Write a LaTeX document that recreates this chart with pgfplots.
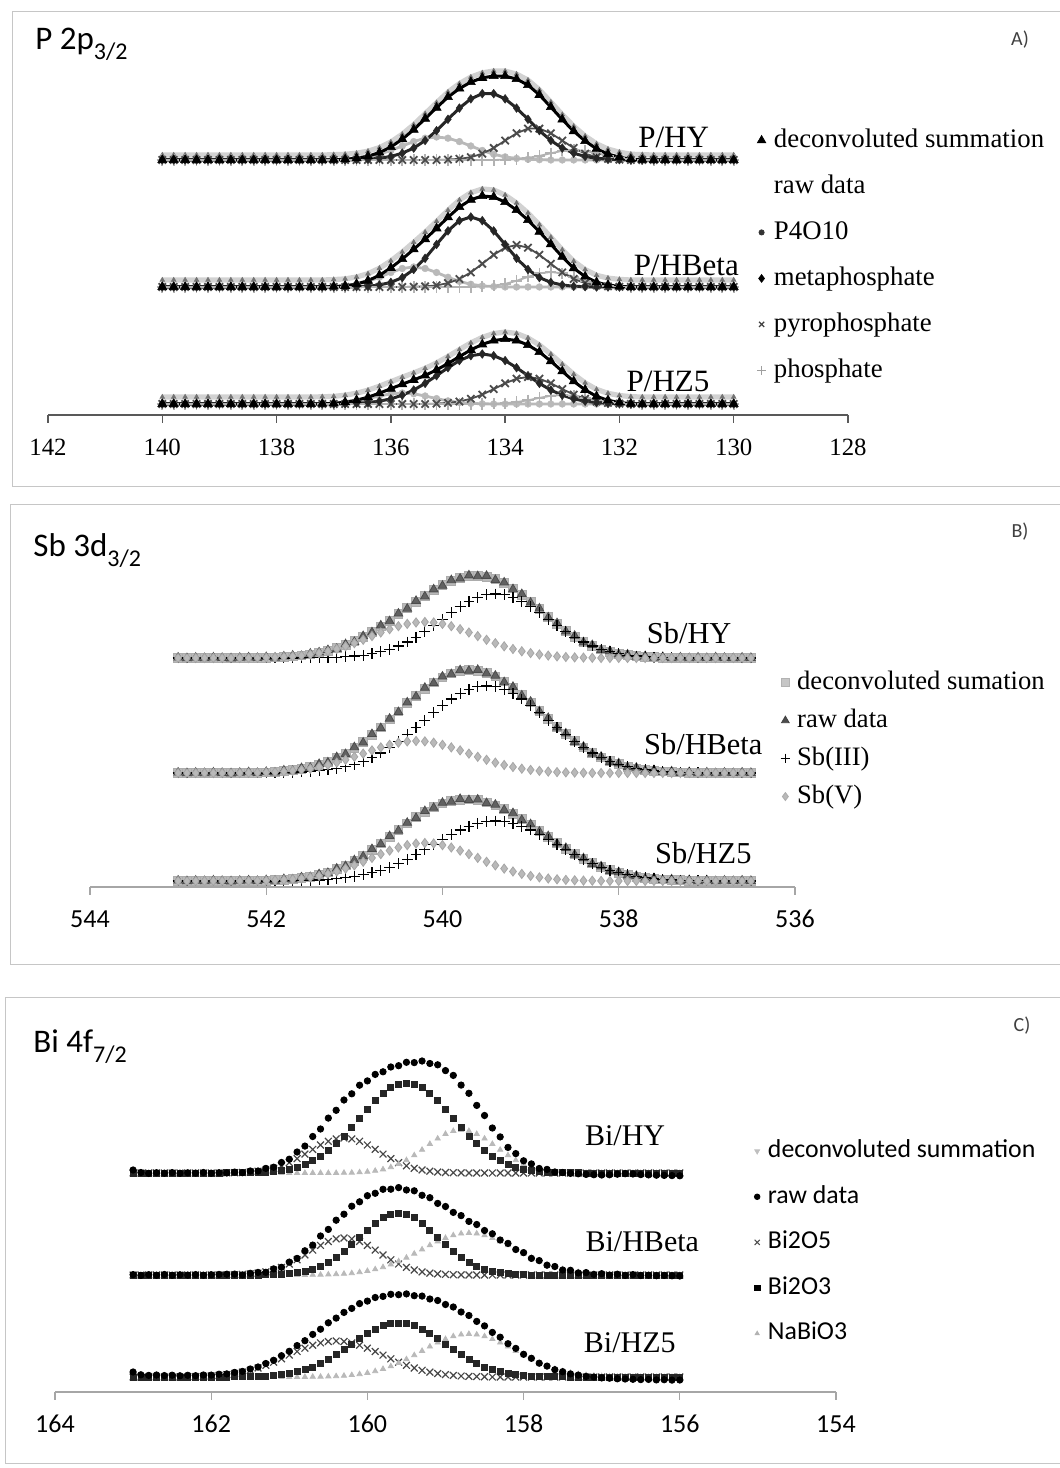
\documentclass[border=0pt]{standalone}
\usepackage{pgfplots}
\pgfplotsset{compat=1.18}
\usepackage{pgfplotstable}
\usepackage{fontspec}
\setmainfont{Liberation Serif}
\newfontfamily\calfont{Carlito}

% ---------------- Panel A : P 2p3/2 ----------------
\pgfplotstableread{
x sum raw p4 meta pyro phos
140.0 255 260 255 255 255 255
139.8 255 260 255 255 255 255
139.6 255 260 255 255 255 255
139.4 255 260 255 255 255 255
139.2 255 260 255 255 255 255
139.0 255 260 255 255 255 255
138.8 255 260 255 255 255 255
138.6 255 260 255 255 255 255
138.4 255 260 255 255 255 255
138.2 255 260 255 255 255 255
138.0 255 260 255 255 255 255
137.8 255 260 255 255 255 255
137.6 255 260 255 255 255 255
137.4 255 260 255 255 255 255
137.2 255 260 255 255 255 255
137.0 255.3 260.3 255.3 255 255 255
136.8 255.7 260.7 255.7 255 255 255
136.6 256.8 261.8 256.5 255.3 255 255
136.4 258.8 263.8 258.1 255.7 255 255
136.2 262.4 267.4 260.7 256.7 255 255
136.0 268.0 273.0 264.5 258.5 255 255
135.8 275.8 280.8 269.0 261.8 255 255
135.6 285.3 290.3 273.4 266.9 255 255
135.4 296.3 301.3 276.8 274.5 255 255
135.2 307.3 312.3 278.0 284.3 255 255
135.0 317.9 322.9 276.8 295.7 255.4 255
134.8 326.4 331.4 273.4 306.9 256.1 255
134.6 332.9 337.9 269.0 316.1 257.8 255
134.4 337.1 342.1 264.5 321.3 261.3 255
134.2 339.0 344.0 260.7 321.3 267.0 255
134.0 338.9 343.9 258.1 316.1 274.4 255.3
133.8 335.9 340.9 256.5 306.9 281.7 255.8
133.6 329.9 334.9 255.7 295.7 286.4 257.1
133.4 320.1 325.1 255.3 284.3 286.4 259.1
133.2 307.9 312.9 255 274.5 281.7 261.7
133.0 295.4 300.4 255 266.9 274.4 264.1
132.8 283.8 288.8 255 261.8 267.0 265.0
132.6 273.9 278.9 255 258.5 261.3 264.1
132.4 266.2 271.2 255 256.7 257.8 261.7
132.2 260.9 265.9 255 255.7 256.1 259.1
132.0 257.8 262.8 255 255.3 255.4 257.1
131.8 255.8 260.8 255 255 255 255.8
131.6 255.3 260.3 255 255 255 255.3
131.4 255 260 255 255 255 255
131.2 255 260 255 255 255 255
131.0 255 260 255 255 255 255
130.8 255 260 255 255 255 255
130.6 255 260 255 255 255 255
130.4 255 260 255 255 255 255
130.2 255 260 255 255 255 255
130.0 255 260 255 255 255 255
}\tAa

\pgfplotstableread{
x sum raw p4 meta pyro phos
140.0 128 135 128 128 128 128
139.8 128 135 128 128 128 128
139.6 128 135 128 128 128 128
139.4 128 135 128 128 128 128
139.2 128 135 128 128 128 128
139.0 128 135 128 128 128 128
138.8 128 135 128 128 128 128
138.6 128 135 128 128 128 128
138.4 128 135 128 128 128 128
138.2 128 135 128 128 128 128
138.0 128 135 128 128 128 128
137.8 128 135 128 128 128 128
137.6 128 135 128 128 128 128
137.4 128 135 128 128 128 128
137.2 128 135 128 128 128 128
137.0 128.4 135.4 128.4 128 128 128
136.8 129.1 136.1 129.1 128 128 128
136.6 131.0 138.0 130.7 128.3 128 128
136.4 134.3 141.3 133.6 128.7 128 128
136.2 139.7 146.7 137.7 130.0 128 128
136.0 147.1 154.1 142.5 132.6 128 128
135.8 155.9 162.9 146.5 137.4 128 128
135.6 165.7 172.7 148.0 145.5 128.2 128
135.4 175.8 182.8 146.5 156.7 128.6 128
135.2 186.6 193.6 142.5 170.5 129.6 128
135.0 197.7 204.7 137.7 184.1 131.9 128
134.8 207.9 214.9 133.6 194.3 136.0 128
134.6 215.3 222.3 130.7 198.0 142.6 128
134.4 219.0 226.0 129.1 194.3 151.2 128.4
134.2 218.0 225.0 128.4 184.1 160.2 129.3
134.0 212.9 219.9 128 170.5 167.3 131.1
133.8 204.9 211.9 128 156.7 170.0 134.2
133.6 194.9 201.9 128 145.5 167.3 138.1
133.4 183.2 190.2 128 137.4 160.2 141.6
133.2 170.8 177.8 128 132.6 151.2 143.0
133.0 158.2 165.2 128 130.0 142.6 141.6
132.8 146.8 153.8 128 128.7 136.0 138.1
132.6 138.4 145.4 128 128.3 131.9 134.2
132.4 132.7 139.7 128 128 129.6 131.1
132.2 129.9 136.9 128 128 128.6 129.3
132.0 128.6 135.6 128 128 128.2 128.4
131.8 128 135 128 128 128 128
131.6 128 135 128 128 128 128
131.4 128 135 128 128 128 128
131.2 128 135 128 128 128 128
131.0 128 135 128 128 128 128
130.8 128 135 128 128 128 128
130.6 128 135 128 128 128 128
130.4 128 135 128 128 128 128
130.2 128 135 128 128 128 128
130.0 128 135 128 128 128 128
}\tAb

\pgfplotstableread{
x sum raw p4 meta pyro phos
140.0 11 18 11 11 11 11
139.8 11 18 11 11 11 11
139.6 11 18 11 11 11 11
139.4 11 18 11 11 11 11
139.2 11 18 11 11 11 11
139.0 11 18 11 11 11 11
138.8 11 18 11 11 11 11
138.6 11 18 11 11 11 11
138.4 11 18 11 11 11 11
138.2 11 18 11 11 11 11
138.0 11 18 11 11 11 11
137.8 11 18 11 11 11 11
137.6 11 18 11 11 11 11
137.4 11 18 11 11 11 11
137.2 11.2 18.2 11.2 11 11 11
137.0 11.6 18.6 11.6 11 11 11
136.8 12.8 19.8 12.5 11.3 11 11
136.6 14.8 21.8 14.1 11.7 11 11
136.4 17.8 24.8 16.4 12.4 11 11
136.2 21.8 28.8 19.0 13.8 11 11
136.0 26.3 33.3 21.2 16.1 11 11
135.8 30.8 37.8 22.0 19.8 11 11
135.6 35.1 42.1 21.2 24.9 11 11
135.4 39.6 46.6 19.0 31.6 11 11
135.2 45.1 52.1 16.4 39.3 11.4 11
135.0 51.5 58.5 14.1 47.3 12.1 11
134.8 58.4 65.4 12.5 54.4 13.5 11
134.6 65.1 72.1 11.6 59.3 16.2 11
134.4 70.6 77.6 11.2 61.0 20.4 11
134.2 74.5 81.5 11 59.3 25.9 11.3
134.0 75.9 82.9 11 54.4 31.7 11.8
133.8 74.5 81.5 11 47.3 36.3 12.9
133.6 70.0 77.0 11 39.3 38.0 14.7
133.4 63.0 70.0 11 31.6 36.3 17.1
133.2 53.8 60.8 11 24.9 31.7 19.2
133.0 43.7 50.7 11 19.8 25.9 20.0
132.8 33.7 40.7 11 16.1 20.4 19.2
132.6 25.1 32.1 11 13.8 16.2 17.1
132.4 18.6 25.6 11 12.4 13.5 14.7
132.2 14.7 21.7 11 11.7 12.1 12.9
132.0 12.5 19.5 11 11.3 11.4 11.8
131.8 11.3 18.3 11 11 11 11.3
131.6 11 18 11 11 11 11
131.4 11 18 11 11 11 11
131.2 11 18 11 11 11 11
131.0 11 18 11 11 11 11
130.8 11 18 11 11 11 11
130.6 11 18 11 11 11 11
130.4 11 18 11 11 11 11
130.2 11 18 11 11 11 11
130.0 11 18 11 11 11 11
}\tAc

% ---------------- Panel B : Sb 3d3/2 ----------------
\pgfplotstableread{
x sum raw iii v
543.0 229 229.4 229 229
542.9 229 228.7 229 229
542.8 229 229.3 229 229
542.7 229 228.8 229 229
542.6 229 229.5 229 229
542.5 229 229.0 229 229
542.4 229 228.6 229 229
542.3 229 229.2 229 229
542.2 229 229.6 229 229
542.1 229.2 229.0 229 229.2
542.0 229.4 229.9 229 229.4
541.9 229.6 229.3 229 229.6
541.8 230.0 230.5 229 230.0
541.7 230.6 231.4 229.0 230.6
541.6 231.5 231.0 229.1 231.4
541.5 232.6 233.3 229.1 232.5
541.4 234.1 234.6 229.2 233.9
541.3 236.1 236.9 229.4 235.7
541.2 238.7 238.1 229.7 238.0
541.1 241.9 242.8 230.2 240.7
541.0 245.7 245.0 230.9 243.8
540.9 250.0 250.9 231.8 247.2
540.8 255.1 254.6 233.2 250.9
540.7 260.6 261.5 235.1 254.5
540.6 266.4 265.8 237.6 257.8
540.5 272.7 273.4 240.9 260.8
540.4 279.0 278.3 244.9 263.1
540.3 285.3 286.1 249.8 264.5
540.2 291.3 290.5 255.3 265.0
540.1 296.9 297.6 261.4 264.5
540.0 301.9 301.2 267.8 263.1
539.9 306.0 306.8 274.2 260.8
539.8 309.1 308.4 280.3 257.8
539.7 310.9 311.6 285.4 254.5
539.6 311.4 310.8 289.5 250.9
539.5 310.3 311.1 292.1 247.2
539.4 307.8 307.0 293.0 243.8
539.3 303.8 304.5 292.1 240.7
539.2 298.5 297.8 289.5 238.0
539.1 292.1 292.9 285.4 235.7
539.0 285.2 284.4 280.3 233.9
538.9 277.7 278.5 274.2 232.5
538.8 270.2 269.6 267.8 231.4
538.7 263.0 263.8 261.4 230.6
538.6 256.3 255.5 255.3 230.0
538.5 250.4 251.2 249.8 229.6
538.4 245.3 244.6 244.9 229.4
538.3 241.1 241.9 240.9 229.2
538.2 237.6 237.0 237.6 229
538.1 235.1 235.8 235.1 229
538.0 233.2 232.6 233.2 229
537.9 231.8 232.5 231.8 229
537.8 230.9 230.3 230.9 229
537.7 230.2 230.9 230.2 229
537.6 229.7 229.2 229.7 229
537.5 229.4 230.0 229.4 229
537.4 229.2 228.7 229.2 229
537.3 229 229.5 229 229
537.2 229 228.8 229 229
537.1 229 229.4 229 229
537.0 229 228.9 229 229
536.9 229 229.6 229 229
536.8 229 229.1 229 229
536.7 229 228.7 229 229
536.6 229 229.3 229 229
536.5 229 229.0 229 229
}\tBa

\pgfplotstableread{
x sum raw iii v
543.0 114 114.4 114 114
542.9 114 113.7 114 114
542.8 114 114.3 114 114
542.7 114 113.8 114 114
542.6 114 114.5 114 114
542.5 114 114.0 114 114
542.4 114 113.6 114 114
542.3 114 114.2 114 114
542.2 114.2 114.8 114 114.2
542.1 114.4 114.0 114 114.4
542.0 114.6 115.1 114 114.6
541.9 114.9 114.4 114 114.9
541.8 115.8 116.5 114.4 115.4
541.7 116.7 116.1 114.6 116.1
541.6 118.1 118.9 115.0 117.1
541.5 119.8 119.2 115.5 118.3
541.4 122.2 123.0 116.2 120.0
541.3 125.2 124.5 117.2 122.0
541.2 129.0 129.8 118.6 124.4
541.1 133.6 132.9 120.4 127.2
541.0 139.0 139.8 122.8 130.2
540.9 145.1 144.4 125.7 133.4
540.8 152.1 152.9 129.5 136.6
540.7 159.6 158.9 134.0 139.6
540.6 167.5 168.3 139.3 142.2
540.5 175.6 174.9 145.3 144.3
540.4 183.7 184.5 152.1 145.6
540.3 191.2 190.5 159.2 146.0
540.2 198.4 199.2 166.8 145.6
540.1 204.6 203.9 174.3 144.3
540.0 209.6 210.4 181.4 142.2
539.9 213.5 212.8 187.9 139.6
539.8 215.9 216.7 193.3 136.6
539.7 216.9 216.2 197.5 133.4
539.6 216.3 217.1 200.1 130.2
539.5 214.2 213.5 201.0 127.2
539.4 210.5 211.3 200.1 124.4
539.3 205.5 204.8 197.5 122.0
539.2 199.3 200.1 193.3 120.0
539.1 192.2 191.5 187.9 118.3
539.0 184.5 185.3 181.4 117.1
538.9 176.4 175.7 174.3 116.1
538.8 168.2 169.0 166.8 115.4
538.7 160.1 159.4 159.2 114.9
538.6 152.7 153.5 152.1 114.6
538.5 145.7 145.0 145.3 114.4
538.4 139.5 140.3 139.3 114.2
538.3 134.0 133.3 134.0 114
538.2 129.5 130.3 129.5 114
538.1 125.7 125.0 125.7 114
538.0 122.8 123.6 122.8 114
537.9 120.4 119.7 120.4 114
537.8 118.6 119.3 118.6 114
537.7 117.2 116.6 117.2 114
537.6 116.2 116.9 116.2 114
537.5 115.5 114.9 115.5 114
537.4 115.0 115.6 115.0 114
537.3 114.6 114.1 114.6 114
537.2 114.4 114.9 114.4 114
537.1 114.2 113.8 114.2 114
537.0 114 114.5 114 114
536.9 114 113.7 114 114
536.8 114 114.3 114 114
536.7 114 113.9 114 114
536.6 114 114.4 114 114
536.5 114 114.0 114 114
}\tBb

\pgfplotstableread{
x sum raw iii v
543.0 6 6.4 6 6
542.9 6 5.7 6 6
542.8 6 6.3 6 6
542.7 6 5.8 6 6
542.6 6 6.5 6 6
542.5 6 6.0 6 6
542.4 6 5.6 6 6
542.3 6 6.2 6 6
542.2 6 6.6 6 6
542.1 6.3 6.0 6 6.3
542.0 6.4 6.9 6 6.4
541.9 6.7 6.2 6 6.7
541.8 7.3 7.9 6.2 7.1
541.7 8.0 7.5 6.3 7.7
541.6 8.9 9.6 6.4 8.5
541.5 10.3 9.8 6.7 9.6
541.4 12.1 12.8 7.0 11.1
541.3 14.6 14.0 7.5 13.1
541.2 17.7 18.4 8.2 15.5
541.1 21.5 20.9 9.1 18.4
541.0 26.0 26.7 10.4 21.6
540.9 31.3 30.6 12.1 25.2
540.8 37.2 37.9 14.1 29.1
540.7 43.6 42.9 16.7 32.9
540.6 50.2 50.9 19.8 36.4
540.5 57.0 56.3 23.5 39.5
540.4 63.5 64.2 27.6 41.9
540.3 69.8 69.1 32.3 43.5
540.2 75.2 75.9 37.2 44.0
540.1 79.9 79.2 42.4 43.5
540.0 83.5 84.2 47.6 41.9
539.9 86.0 85.3 52.5 39.5
539.8 87.3 88.0 56.9 36.4
539.7 87.6 86.9 60.7 32.9
539.6 86.7 87.4 63.6 29.1
539.5 84.6 83.9 65.4 25.2
539.4 81.6 82.3 66.0 21.6
539.3 77.8 77.1 65.4 18.4
539.2 73.1 73.8 63.6 15.5
539.1 67.8 67.1 60.7 13.1
539.0 62.0 62.7 56.9 11.1
538.9 56.1 55.4 52.5 9.6
538.8 50.1 50.8 47.6 8.5
538.7 44.1 43.4 42.4 7.7
538.6 38.3 39.0 37.2 7.1
538.5 33.0 32.3 32.3 6.7
538.4 28.0 28.7 27.6 6.4
538.3 23.8 23.1 23.5 6.3
538.2 19.9 20.6 19.8 6.1
538.1 16.7 16.0 16.7 6
538.0 14.1 14.8 14.1 6
537.9 12.1 11.4 12.1 6
537.8 10.4 11.1 10.4 6
537.7 9.1 8.5 9.1 6
537.6 8.2 8.9 8.2 6
537.5 7.5 6.9 7.5 6
537.4 7.0 7.6 7.0 6
537.3 6.7 6.2 6.7 6
537.2 6.4 6.9 6.4 6
537.1 6.3 5.8 6.3 6
537.0 6.2 6.7 6.2 6
536.9 6 5.7 6 6
536.8 6 6.3 6 6
536.7 6 5.9 6 6
536.6 6 6.4 6 6
536.5 6 6.0 6 6
}\tBc

% ---------------- Panel C : Bi 4f7/2 ----------------
\pgfplotstableread{
x sum raw o5 o3 na
163.0 219 222 219 219 219
162.9 219 219.5 219 219 219
162.8 219 218.6 219 219 219
162.7 219 219.3 219 219 219
162.6 219 218.8 219 219 219
162.5 219 219.4 219 219 219
162.4 219 218.7 219 219 219
162.3 219 219.2 219 219 219
162.2 219 218.9 219 219 219
162.1 219 219.5 219 219 219
162.0 219 218.8 219 219 219
161.9 219 219.3 219 219 219
161.8 219.2 219.0 219.1 219.1 219
161.7 219.4 219.9 219.3 219.1 219
161.6 219.7 219.3 219.5 219.2 219
161.5 220.4 221.0 220.0 219.4 219
161.4 221.4 221.0 220.8 219.6 219
161.3 223.0 223.6 222.0 220.0 219
161.2 225.3 224.8 223.7 220.6 219
161.1 228.8 229.5 226.2 221.6 219
161.0 233.4 232.8 229.4 223.0 219
160.9 239.3 240.0 233.4 224.9 219
160.8 246.5 245.9 237.9 227.6 219
160.7 254.8 255.5 242.6 231.2 219
160.6 263.7 263.0 247.0 235.7 219
160.5 273.1 273.9 250.7 241.4 219
160.4 282.4 281.7 253.1 248.3 219
160.3 291.2 292.0 254.0 256.0 219.2
160.2 298.9 298.2 253.1 264.5 219.3
160.1 306.0 306.8 250.7 273.6 219.7
160.0 311.8 311.1 247.0 282.6 220.2
159.9 316.9 317.6 242.6 291.1 221.2
159.8 320.9 320.2 237.9 298.4 222.6
159.7 324.3 325.0 233.4 304.1 224.8
159.6 327.0 326.3 229.4 307.7 227.9
159.5 329.0 329.7 226.2 309.0 231.8
159.4 330.1 329.4 223.7 307.7 236.7
159.3 330.3 331.0 222.0 304.1 242.2
159.2 329.2 328.5 220.8 298.4 248.0
159.1 326.5 327.2 220.0 291.1 253.4
159.0 322.1 321.4 219.5 282.6 258.0
158.9 315.9 316.6 219.3 273.6 261.0
158.8 307.6 306.9 219.1 264.5 262.0
158.7 298.0 298.7 219 256.0 261.0
158.6 287.3 286.6 219 248.3 258.0
158.5 275.8 276.5 219 241.4 253.4
158.4 264.7 264.0 219 235.7 248.0
158.3 254.4 255.1 219 231.2 242.2
158.2 245.3 244.6 219 227.6 236.7
158.1 237.7 238.4 219 224.9 231.8
158.0 231.9 231.2 219 223.0 227.9
157.9 227.4 228.1 219 221.6 224.8
157.8 224.2 223.5 219 220.6 222.6
157.7 222.2 222.6 219 220.0 221.2
157.6 220.8 220.0 219 219.6 220.2
157.5 220.1 219.4 219 219.4 219.7
157.4 219.5 218.6 219 219.2 219.3
157.3 219.3 218.2 219 219.1 219.2
157.2 219 217.6 219 219 219
157.1 219 217.3 219 219 219
157.0 219 217.0 219 219 219
156.9 219 217.2 219 219 219
156.8 219 217.8 219 219 219
156.7 219 218.3 219 219 219
156.6 219 218.0 219 219 219
156.5 219 217.4 219 219 219
156.4 219 217.1 219 219 219
156.3 219 216.8 219 219 219
156.2 219 216.6 219 219 219
156.1 219 216.4 219 219 219
156.0 219 216.2 219 219 219
}\tCa

\pgfplotstableread{
x sum raw o5 o3 na
163.0 117 117.4 117 117 117
162.9 117 116.6 117 117 117
162.8 117 117.3 117 117 117
162.7 117 116.8 117 117 117
162.6 117 117.5 117 117 117
162.5 117 116.7 117 117 117
162.4 117 117.2 117 117 117
162.3 117 116.9 117 117 117
162.2 117 117.4 117 117 117
162.1 117 116.8 117 117 117
162.0 117 117.3 117 117 117
161.9 117 117.6 117 117 117
161.8 117.1 117.8 117.1 117 117
161.7 117.3 117.9 117.3 117 117
161.6 117.6 117.1 117.6 117 117
161.5 118.1 118.7 118.1 117 117
161.4 118.9 119.6 118.9 117 117
161.3 120.3 119.7 120.1 117.2 117
161.2 122.4 123.1 122.0 117.4 117
161.1 125.3 124.7 124.6 117.7 117
161.0 129.2 129.9 128.0 118.2 117
160.9 134.3 133.6 132.2 119.1 117
160.8 140.5 141.2 137.0 120.5 117
160.7 147.6 146.9 141.9 122.5 117.2
160.6 155.3 156.0 146.6 125.4 117.3
160.5 163.3 162.6 150.5 129.3 117.5
160.4 171.1 171.8 153.1 134.2 117.8
160.3 178.5 177.8 154.0 140.3 118.2
160.2 185.1 185.8 153.1 147.2 118.8
160.1 190.9 190.2 150.5 154.6 119.8
160.0 195.6 196.3 146.6 162.0 121.0
159.9 199.4 198.7 141.9 168.8 122.7
159.8 202.0 202.7 137.0 174.2 124.8
159.7 203.5 202.8 132.2 177.8 127.5
159.6 203.7 204.4 128.0 179.0 130.7
159.5 202.7 202.0 124.6 177.8 134.3
159.4 200.5 201.2 122.0 174.2 138.3
159.3 197.4 196.7 120.1 168.8 142.5
159.2 193.6 194.3 118.9 162.0 146.7
159.1 189.3 188.6 118.1 154.6 150.6
159.0 184.8 185.5 117.6 147.2 154.0
158.9 180.3 179.6 117.3 140.3 156.7
158.8 175.7 176.4 117.1 134.2 158.4
158.7 171.3 170.6 117 129.3 159.0
158.6 166.8 167.5 117 125.4 158.4
158.5 162.2 161.5 117 122.5 156.7
158.4 157.5 158.2 117 120.5 154.0
158.3 152.7 152.0 117 119.1 150.6
158.2 147.9 148.6 117 118.2 146.7
158.1 143.2 142.5 117 117.7 142.5
158.0 138.7 139.4 117 117.4 138.3
157.9 134.3 133.6 117 117 134.3
157.8 130.7 131.4 117 117 130.7
157.7 127.5 126.8 117 117 127.5
157.6 124.8 125.5 117 117 124.8
157.5 122.7 122.0 117 117 122.7
157.4 121.0 121.7 117 117 121.0
157.3 119.8 119.1 117 117 119.8
157.2 118.8 119.4 117 117 118.8
157.1 118.2 117.6 117 117 118.2
157.0 117.8 118.3 117 117 117.8
156.9 117.5 116.9 117 117 117.5
156.8 117.3 117.8 117 117 117.3
156.7 117.2 116.6 117 117 117.2
156.6 117 117.4 117 117 117
156.5 117 116.5 117 117 117
156.4 117 116.8 117 117 117
156.3 117 116.3 117 117 117
156.2 117 116.6 117 117 117
156.1 117 116.2 117 117 117
156.0 117 116.0 117 117 117
}\tCb

\pgfplotstableread{
x sum raw o5 o3 na
163.0 15 20.0 15 15 15
162.9 15 17.2 15 15 15
162.8 15 16.6 15 15 15
162.7 15 17.0 15 15 15
162.6 15 16.4 15 15 15
162.5 15 16.8 15 15 15
162.4 15 16.2 15 15 15
162.3 15.2 16.7 15.2 15 15
162.2 15.4 16.3 15.4 15 15
162.1 15.6 17.0 15.6 15 15
162.0 16.0 16.9 16.0 15 15
161.9 16.6 17.8 16.6 15 15
161.8 17.5 18.1 17.4 15.0 15
161.7 18.6 19.6 18.5 15.1 15
161.6 20.1 20.6 19.9 15.2 15
161.5 22.1 23.0 21.7 15.4 15
161.4 24.6 25.0 24.0 15.6 15
161.3 27.7 28.5 26.7 16.0 15
161.2 31.4 31.7 29.8 16.6 15
161.1 35.6 36.3 33.2 17.4 15
161.0 40.5 40.7 36.9 18.6 15
160.9 45.7 46.4 40.5 20.2 15
160.8 51.2 51.3 43.8 22.3 15.1
160.7 57.0 57.6 46.8 25.0 15.2
160.6 62.8 62.8 49.1 28.4 15.3
160.5 68.6 69.2 50.5 32.6 15.5
160.4 74.0 73.9 51.0 37.2 15.8
160.3 79.0 79.6 50.5 42.3 16.2
160.2 83.8 83.6 49.1 47.8 16.9
160.1 87.8 88.4 46.8 53.2 17.8
160.0 91.2 90.9 43.8 58.3 19.1
159.9 93.9 94.5 40.5 62.6 20.8
159.8 96.0 95.6 36.9 66.1 23.0
159.7 97.1 97.7 33.2 68.2 25.7
159.6 97.8 97.3 29.8 69.0 29.0
159.5 97.6 98.1 26.7 68.2 32.7
159.4 96.9 96.3 24.0 66.1 36.8
159.3 95.4 95.9 21.7 62.6 41.1
159.2 93.6 93.0 19.9 58.3 45.4
159.1 91.1 91.5 18.5 53.2 49.4
159.0 88.1 87.5 17.4 47.8 52.9
158.9 84.6 85.0 16.6 42.3 55.7
158.8 80.6 80.0 16.0 37.2 57.4
158.7 76.2 76.5 15.6 32.6 58.0
158.6 71.2 70.6 15.4 28.4 57.4
158.5 65.9 66.1 15.2 25.0 55.7
158.4 60.2 59.6 15 22.3 52.9
158.3 54.6 54.8 15 20.2 49.4
158.2 49.0 48.3 15 18.6 45.4
158.1 43.5 43.6 15 17.4 41.1
158.0 38.4 37.7 15 16.6 36.8
157.9 33.7 33.7 15 16.0 32.7
157.8 29.6 28.8 15 15.6 29.0
157.7 26.1 25.9 15 15.4 25.7
157.6 23.2 22.3 15 15.2 23.0
157.5 20.9 20.3 15 15.1 20.8
157.4 19.1 18.1 15 15 19.1
157.3 17.8 16.9 15 15 17.8
157.2 16.9 15.6 15 15 16.9
157.1 16.2 15.0 15 15 16.2
157.0 15.8 14.1 15 15 15.8
156.9 15.5 13.8 15 15 15.5
156.8 15.3 13.2 15 15 15.3
156.7 15.2 13.0 15 15 15.2
156.6 15 12.7 15 15 15
156.5 15 12.4 15 15 15
156.4 15 12.6 15 15 15
156.3 15 12.1 15 15 15
156.2 15 12.3 15 15 15
156.1 15 11.9 15 15 15
156.0 15 12.0 15 15 15
}\tCc

\pgfplotsset{
  panel/.style={
    scale only axis, x dir=reverse,
    axis x line*=bottom, axis y line=none, ytick=\empty,
    tick align=outside, major tick length=4pt,
    clip=false,
    /pgf/number format/assume math mode=true,
    legend cell align=left,
    legend image code/.code={\draw[##1] plot coordinates {(0pt,0pt)};},
  },
  sumA/.style={draw=black, line width=1.5pt, mark=triangle*, mark size=2.6pt, mark options={fill=black, line width=0.3pt}},
  rawA/.style={draw=gray!35, line width=2.6pt, mark=triangle*, mark size=1.4pt, mark options={draw=black!55, fill=black!55, line width=0.2pt}},
  p4A/.style={draw=gray!55, line width=1.4pt, mark=*, mark size=1.7pt, mark options={fill=gray!55, line width=0.2pt}},
  metaA/.style={draw=black!85, line width=1.5pt, mark=diamond*, mark size=2.2pt, mark options={fill=black!85, line width=0.2pt}},
  pyroA/.style={draw=black!70, line width=0.9pt, mark=x, mark size=2.6pt},
  phosA/.style={draw=gray!60, line width=0.9pt, mark=+, mark size=2.8pt},
  sumB/.style={only marks, mark=square*, mark size=2.2pt, draw=gray!65, fill=gray!55},
  rawB/.style={only marks, mark=triangle*, mark size=2.5pt, draw=black!70, fill=black!62},
  iiiB/.style={only marks, mark=+, mark size=2.7pt, draw=black, line width=0.6pt},
  vB/.style={only marks, mark=diamond*, mark size=2.3pt, draw=gray!70, fill=gray!55},
  sumC/.style={only marks, mark=triangle*, mark size=1.3pt, mark options={rotate=180}, draw=gray!45, fill=gray!45},
  rawC/.style={only marks, mark=*, mark size=1.6pt, draw=black, fill=black},
  o5C/.style={only marks, mark=x, mark size=2.4pt, draw=black!72, line width=0.6pt},
  o3C/.style={only marks, mark=square*, mark size=1.5pt, draw=black!85, fill=black!85},
  naC/.style={only marks, mark=triangle*, mark size=1.5pt, draw=gray!55, fill=gray!55},
}

\begin{document}
\begin{tikzpicture}
\useasboundingbox (0pt,0pt) rectangle (530pt,734pt);
\draw[gray!45, line width=0.5pt] (530pt,728pt) -- (6pt,728pt) -- (6pt,490.5pt) -- (530pt,490.5pt);
\draw[gray!45, line width=0.5pt] (530pt,481.5pt) -- (5pt,481.5pt) -- (5pt,251.5pt) -- (530pt,251.5pt);
\draw[gray!45, line width=0.5pt] (530pt,235pt) -- (2.5pt,235pt) -- (2.5pt,2pt) -- (530pt,2pt);

\node[anchor=base west, inner sep=0pt, font=\calfont\fontsize{16.5}{19}\selectfont] at (17.5pt,709pt) {P 2p\raisebox{-0.3em}{\fontsize{12}{13}\selectfont 3/2}};
\node[anchor=base west, inner sep=0pt, font=\calfont\fontsize{16.5}{19}\selectfont] at (16.5pt,455.5pt) {Sb 3d\raisebox{-0.3em}{\fontsize{12}{13}\selectfont 3/2}};
\node[anchor=base west, inner sep=0pt, font=\calfont\fontsize{16.5}{19}\selectfont] at (16.5pt,207.5pt) {Bi 4f\raisebox{-0.3em}{\fontsize{12}{13}\selectfont 7/2}};
\node[font=\calfont\fontsize{10}{12}\selectfont, text=black!75] at (510pt,714pt) {A)};
\node[font=\calfont\fontsize{10}{12}\selectfont, text=black!75] at (510pt,468pt) {B)};
\node[font=\calfont\fontsize{10}{12}\selectfont, text=black!75] at (511pt,221pt) {C)};

% ---------------- Panel A ----------------
\begin{axis}[panel, at={(24pt,526.5pt)}, anchor=south west,
  width=400pt, height=177.5pt,
  xmin=128, xmax=142, ymin=0, ymax=355,
  xtick={128,130,...,142},
  x axis line style={draw=black!65, line width=0.7pt, -},
  xtick style={draw=black!65, line width=0.7pt},
  xticklabel style={font=\fontsize{12.4}{14}\selectfont, inner sep=0pt, anchor=base, yshift=-16.2pt},
  legend style={draw=none, fill=none, at={(0.886,0.810)}, anchor=north west,
    inner sep=0pt, row sep=10.4pt, font=\fontsize{13.4}{16}\selectfont,
    nodes={inner xsep=4pt, inner ysep=0pt, text height=9.6pt, text depth=3pt}},
]
\addplot[rawA, forget plot] table[x=x, y=raw] {\tAa};
\addplot[p4A, forget plot] table[x=x, y=p4] {\tAa};
\addplot[phosA, forget plot] table[x=x, y=phos] {\tAa};
\addplot[pyroA, forget plot] table[x=x, y=pyro] {\tAa};
\addplot[metaA, forget plot] table[x=x, y=meta] {\tAa};
\addplot[sumA, forget plot] table[x=x, y=sum] {\tAa};
\addplot[rawA, forget plot] table[x=x, y=raw] {\tAb};
\addplot[p4A, forget plot] table[x=x, y=p4] {\tAb};
\addplot[phosA, forget plot] table[x=x, y=phos] {\tAb};
\addplot[pyroA, forget plot] table[x=x, y=pyro] {\tAb};
\addplot[metaA, forget plot] table[x=x, y=meta] {\tAb};
\addplot[sumA, forget plot] table[x=x, y=sum] {\tAb};
\addplot[rawA, forget plot] table[x=x, y=raw] {\tAc};
\addplot[p4A, forget plot] table[x=x, y=p4] {\tAc};
\addplot[phosA, forget plot] table[x=x, y=phos] {\tAc};
\addplot[pyroA, forget plot] table[x=x, y=pyro] {\tAc};
\addplot[metaA, forget plot] table[x=x, y=meta] {\tAc};
\addplot[sumA, forget plot] table[x=x, y=sum] {\tAc};
\node[font=\fontsize{15.5}{18}\selectfont] at (axis cs:131.05,278) {P/HY};
\node[font=\fontsize{15.5}{18}\selectfont] at (axis cs:130.83,150) {P/HBeta};
\node[font=\fontsize{15.5}{18}\selectfont] at (axis cs:131.15,34) {P/HZ5};
\addlegendimage{only marks, mark=triangle*, mark size=2.4pt, draw=black, fill=black}
\addlegendentry{deconvoluted summation}
\addlegendimage{only marks, mark=triangle*, mark size=2.4pt, draw=white, fill=white}
\addlegendentry{raw data}
\addlegendimage{only marks, mark=*, mark size=1.3pt, draw=black!80, fill=black!80}
\addlegendentry{P4O10}
\addlegendimage{only marks, mark=diamond*, mark size=1.9pt, draw=black, fill=black}
\addlegendentry{metaphosphate}
\addlegendimage{only marks, mark=x, mark size=1.8pt, draw=black!75, line width=0.6pt}
\addlegendentry{pyrophosphate}
\addlegendimage{only marks, mark=+, mark size=2.2pt, draw=gray!75, line width=0.6pt}
\addlegendentry{phosphate}
\end{axis}

% ---------------- Panel B ----------------
\begin{axis}[panel, at={(45pt,290.5pt)}, anchor=south west,
  width=352.5pt, height=165pt,
  xmin=536, xmax=544, ymin=0, ymax=330,
  xtick={536,538,...,544},
  x axis line style={draw=gray!70, line width=0.6pt, -},
  xtick style={draw=gray!70, line width=0.6pt},
  xticklabel style={font=\calfont\fontsize{13}{15}\selectfont, inner sep=0pt, anchor=base, yshift=-16.1pt},
  legend style={draw=none, fill=none, at={(0.979,0.659)}, anchor=north west,
    inner sep=0pt, row sep=6.4pt, font=\fontsize{13.3}{16}\selectfont,
    nodes={inner xsep=3.5pt, inner ysep=0pt, text height=9.6pt, text depth=3pt}},
]
\addplot[sumB, forget plot] table[x=x, y=sum] {\tBa};
\addplot[rawB, forget plot] table[x=x, y=raw] {\tBa};
\addplot[iiiB, forget plot] table[x=x, y=iii] {\tBa};
\addplot[vB, forget plot] table[x=x, y=v] {\tBa};
\addplot[sumB, forget plot] table[x=x, y=sum] {\tBb};
\addplot[rawB, forget plot] table[x=x, y=raw] {\tBb};
\addplot[iiiB, forget plot] table[x=x, y=iii] {\tBb};
\addplot[vB, forget plot] table[x=x, y=v] {\tBb};
\addplot[sumB, forget plot] table[x=x, y=sum] {\tBc};
\addplot[rawB, forget plot] table[x=x, y=raw] {\tBc};
\addplot[iiiB, forget plot] table[x=x, y=iii] {\tBc};
\addplot[vB, forget plot] table[x=x, y=v] {\tBc};
\node[font=\fontsize{15.2}{18}\selectfont] at (axis cs:537.2,254) {Sb/HY};
\node[font=\fontsize{15.2}{18}\selectfont] at (axis cs:537.04,143) {Sb/HBeta};
\node[font=\fontsize{15.2}{18}\selectfont] at (axis cs:537.04,34) {Sb/HZ5};
\addlegendimage{only marks, mark=square*, mark size=2pt, draw=gray!60, fill=gray!45}
\addlegendentry{deconvoluted sumation}
\addlegendimage{only marks, mark=triangle*, mark size=2.2pt, draw=black!75, fill=black!70}
\addlegendentry{raw data}
\addlegendimage{only marks, mark=+, mark size=2.4pt, draw=black, line width=0.6pt}
\addlegendentry{Sb(III)}
\addlegendimage{only marks, mark=diamond*, mark size=2pt, draw=gray!65, fill=gray!55}
\addlegendentry{Sb(V)}
\end{axis}

% ---------------- Panel C ----------------
\begin{axis}[panel, at={(27.5pt,38pt)}, anchor=south west,
  width=390.5pt, height=176pt,
  xmin=154, xmax=164, ymin=0, ymax=352,
  xtick={154,156,...,164},
  x axis line style={draw=gray!70, line width=0.6pt, -},
  xtick style={draw=gray!70, line width=0.6pt},
  xticklabel style={font=\calfont\fontsize{13}{15}\selectfont, inner sep=0pt, anchor=base, yshift=-16.1pt},
  legend style={draw=none, fill=none, at={(0.895,0.7205)}, anchor=north west,
    inner sep=0pt, row sep=10.4pt, font=\calfont\fontsize{12.9}{15}\selectfont,
    nodes={inner xsep=4pt, inner ysep=0pt, text height=9.4pt, text depth=3pt}},
]
\addplot[sumC, forget plot] table[x=x, y=sum] {\tCa};
\addplot[o5C, forget plot] table[x=x, y=o5] {\tCa};
\addplot[naC, forget plot] table[x=x, y=na] {\tCa};
\addplot[o3C, forget plot] table[x=x, y=o3] {\tCa};
\addplot[rawC, forget plot] table[x=x, y=raw] {\tCa};
\addplot[sumC, forget plot] table[x=x, y=sum] {\tCb};
\addplot[o5C, forget plot] table[x=x, y=o5] {\tCb};
\addplot[naC, forget plot] table[x=x, y=na] {\tCb};
\addplot[o3C, forget plot] table[x=x, y=o3] {\tCb};
\addplot[rawC, forget plot] table[x=x, y=raw] {\tCb};
\addplot[sumC, forget plot] table[x=x, y=sum] {\tCc};
\addplot[o5C, forget plot] table[x=x, y=o5] {\tCc};
\addplot[naC, forget plot] table[x=x, y=na] {\tCc};
\addplot[o3C, forget plot] table[x=x, y=o3] {\tCc};
\addplot[rawC, forget plot] table[x=x, y=raw] {\tCc};
\node[font=\fontsize{15}{18}\selectfont] at (axis cs:156.70,256) {Bi/HY};
\node[font=\fontsize{15}{18}\selectfont] at (axis cs:156.48,150) {Bi/HBeta};
\node[font=\fontsize{15}{18}\selectfont] at (axis cs:156.64,49) {Bi/HZ5};
\addlegendimage{only marks, mark=triangle*, mark size=1.4pt, mark options={rotate=180}, draw=gray!50, fill=gray!50}
\addlegendentry{deconvoluted summation}
\addlegendimage{only marks, mark=*, mark size=1.4pt, draw=black, fill=black}
\addlegendentry{raw data}
\addlegendimage{only marks, mark=x, mark size=1.8pt, draw=black!70, line width=0.5pt}
\addlegendentry{Bi2O5}
\addlegendimage{only marks, mark=square*, mark size=1.4pt, draw=black, fill=black}
\addlegendentry{Bi2O3}
\addlegendimage{only marks, mark=triangle*, mark size=1.2pt, draw=gray!60, fill=gray!60}
\addlegendentry{NaBiO3}
\end{axis}
\end{tikzpicture}
\end{document}
